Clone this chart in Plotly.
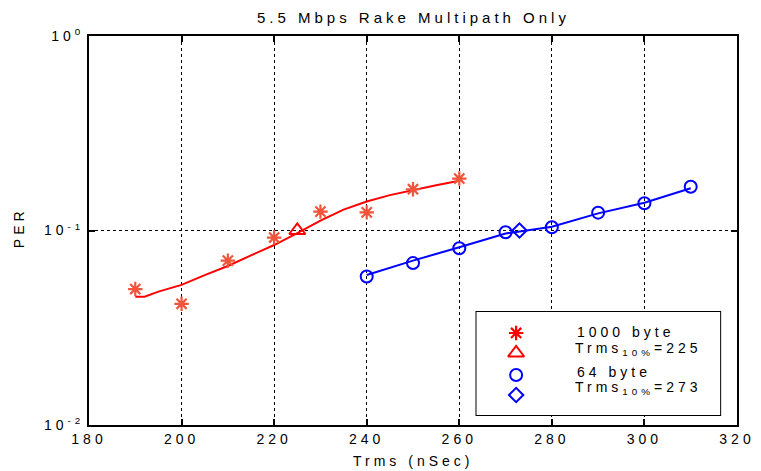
import plotly.graph_objects as go

# ---- data -------------------------------------------------------------
# 1000-byte packets: measured PER vs. Trms
trms_1000 = [190, 200, 210, 220, 230, 240, 250, 260]
per_1000 = [0.050, 0.042, 0.070, 0.092, 0.125, 0.124, 0.163, 0.185]
# smoothed curve through the 1000-byte points
fit_trms_1000 = [190, 192, 195, 200, 205, 210, 215, 220, 225, 230, 235, 240, 245, 250, 255, 260]
fit_per_1000 = [0.0457, 0.0457, 0.0485, 0.0525, 0.059, 0.0657, 0.0745, 0.0842, 0.097,
                 0.1125, 0.128, 0.141, 0.152, 0.1615, 0.171, 0.180]

# 64-byte packets: measured PER vs. Trms
trms_64 = [240, 250, 260, 270, 280, 290, 300, 310]
per_64 = [0.058, 0.068, 0.081, 0.098, 0.104, 0.1235, 0.138, 0.168]
# smoothed curve through the 64-byte points
fit_trms_64 = [240, 250, 260, 270, 280, 290, 300, 310]
fit_per_64 = [0.059, 0.070, 0.082, 0.0965, 0.1045, 0.1225, 0.139, 0.165]

# Trms at which PER reaches 10 %
trms10_1000 = 225
trms10_64 = 273
per_10 = 0.1

x_ticks = [180, 200, 220, 240, 260, 280, 300, 320]
y_ticks = [0.01, 0.1, 1]
y_ticktext = ["10<sup>-2</sup>", "10<sup>-1</sup>", "10<sup>0</sup>"]

title = "5.5 Mbps Rake Multipath Only"
x_title = "Trms (nSec)"
y_title = "PER"
legend_labels = ["1000 byte", "Trms<sub>10%</sub>=" + str(trms10_1000),
                 "64 byte", "Trms<sub>10%</sub>=" + str(trms10_64)]

RED = "rgb(255,0,0)"
BLUE = "rgb(0,0,255)"
FONT = "Liberation Sans, Arial, sans-serif"

fig = go.Figure()

# ---- curves and markers ------------------------------------------------
fig.add_trace(go.Scatter(x=fit_trms_1000, y=fit_per_1000, mode="lines",
                         line=dict(color=RED, width=2), showlegend=False))
fig.add_trace(go.Scatter(x=trms_1000, y=per_1000, mode="markers",
                         marker=dict(symbol="asterisk-open", size=12,
                                     line=dict(color=RED, width=2.2)),
                         showlegend=False))
fig.add_trace(go.Scatter(x=[trms10_1000], y=[per_10], mode="markers",
                         marker=dict(symbol="triangle-up-open", size=14, color=RED,
                                     line=dict(color=RED, width=2)),
                         showlegend=False))

fig.add_trace(go.Scatter(x=fit_trms_64, y=fit_per_64, mode="lines",
                         line=dict(color=BLUE, width=2), showlegend=False))
fig.add_trace(go.Scatter(x=trms_64, y=per_64, mode="markers",
                         marker=dict(symbol="circle-open", size=12, color=BLUE,
                                     line=dict(color=BLUE, width=2)),
                         showlegend=False))
fig.add_trace(go.Scatter(x=[trms10_64], y=[per_10], mode="markers",
                         marker=dict(symbol="diamond-open", size=11, color=BLUE,
                                     line=dict(color=BLUE, width=2)),
                         showlegend=False))

# ---- hand-built legend in its own small subplot (pixel units inside box) -
LEG_W, LEG_H = 246, 103
key_x = 40
key_rows = [21, 41, 63, 83]
# text centres (x) and rows (y) inside the legend box
text_cx = [150.5, 163.5, 139, 163.5]
text_rows = [20, 37, 60, 76]
key_styles = [
    dict(symbol="asterisk-open", size=12, color=RED, line=dict(color=RED, width=2.2)),
    dict(symbol="triangle-up-open", size=14, color=RED, line=dict(color=RED, width=2)),
    dict(symbol="circle-open", size=12, color=BLUE, line=dict(color=BLUE, width=2)),
    dict(symbol="diamond-open", size=11, color=BLUE, line=dict(color=BLUE, width=2)),
]
for ky, st in zip(key_rows, key_styles):
    fig.add_trace(go.Scatter(x=[key_x], y=[ky], mode="markers", marker=st,
                             xaxis="x2", yaxis="y2", showlegend=False,
                             hoverinfo="skip"))

annotations = []
for tx, ty, lab in zip(text_cx, text_rows, legend_labels):
    annotations.append(dict(x=tx, y=ty, xref="x2", yref="y2", text=lab,
                            showarrow=False, xanchor="center", yanchor="middle",
                            font=dict(family=FONT, size=14, color="black")))

# titles
annotations.append(dict(x=0.5, y=1.0488, xref="paper", yref="paper", text=title,
                        showarrow=False, xanchor="center", yanchor="middle",
                        font=dict(family=FONT, size=15, color="black")))
annotations.append(dict(x=0.5, y=-0.0925, xref="paper", yref="paper", text=x_title,
                        showarrow=False, xanchor="center", yanchor="middle",
                        font=dict(family=FONT, size=14, color="black")))
annotations.append(dict(x=-0.108, y=0.506, xref="paper", yref="paper", text=y_title,
                        showarrow=False, xanchor="center", yanchor="middle",
                        textangle=-90,
                        font=dict(family=FONT, size=14, color="black")))

axis_common = dict(
    showline=True, linecolor="black", linewidth=2, mirror="ticks",
    ticks="inside", ticklen=6, tickwidth=1.5, tickcolor="black",
    showgrid=True, gridcolor="black", gridwidth=1.4, griddash="3px,3px",
    zeroline=False, tickfont=dict(family=FONT, size=14, color="black"),
)

fig.update_layout(
    width=761, height=471,
    margin=dict(l=89, r=18, t=36, b=46),
    paper_bgcolor="white", plot_bgcolor="white",
    showlegend=False,
    xaxis=dict(range=[180, 320], tickvals=x_ticks, ticktext=[str(v) for v in x_ticks],
               **axis_common),
    yaxis=dict(type="log", range=[-2, 0], tickvals=y_ticks, ticktext=y_ticktext,
               **axis_common),
    xaxis2=dict(domain=[0.598, 0.974], anchor="y2", range=[0, LEG_W], visible=False,
                fixedrange=True),
    yaxis2=dict(domain=[0.0257, 0.2905], anchor="x2", range=[LEG_H, 0], visible=False,
                fixedrange=True),
    shapes=[dict(type="rect", xref="x2 domain", yref="y2 domain", x0=0, x1=1, y0=0, y1=1,
                 layer="below", fillcolor="white", line=dict(color="black", width=2))],
    annotations=annotations,
)

# wide letter spacing for all chart text
spacing_js = """
var st = document.createElement('style');
st.textContent = '.main-svg text { letter-spacing: 4px; }';
document.head.appendChild(st);
"""

fig.write_html("out.html", post_script=spacing_js)
